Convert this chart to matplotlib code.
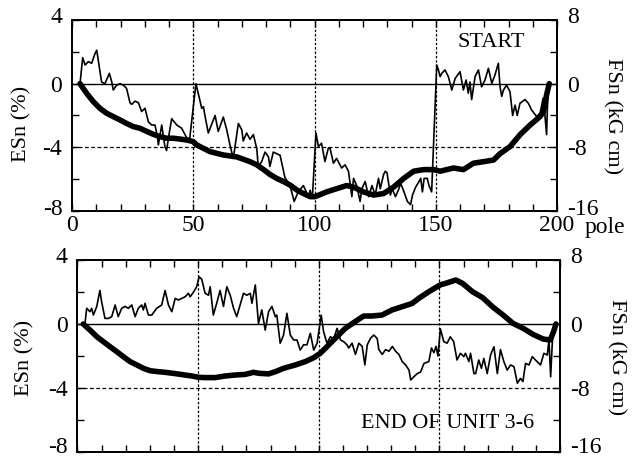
import numpy as np
import matplotlib
matplotlib.use("Agg")
import matplotlib.pyplot as plt
from matplotlib.ticker import MultipleLocator
from matplotlib.transforms import ScaledTranslation

plt.rcParams['font.family'] = ['Liberation Serif', 'DejaVu Serif']
plt.rcParams['axes.unicode_minus'] = False

# START : thin line = ESn (%), thick line = FSn (kG cm)
top_pole_e = [3.3, 4.4, 5.4, 6.7, 8.1, 9.5, 10.2, 12.2, 13.6, 15.4, 16.4, 17.0, 18.4, 19.8, 21.2, 22.5,
              23.9, 24.6, 26.0, 27.4, 28.7, 30.1, 31.5, 32.9, 34.2, 35.2, 35.6, 37.0, 38.3, 39.0, 40.0,
              41.1, 43.2, 45.2, 47.3, 48.5, 51.1, 53.5, 54.2, 54.8, 56.2, 59.0, 60.3, 62.4, 63.8, 65.2,
              66.5, 68.6, 70.0, 70.6, 72.0, 73.4, 74.8, 76.2, 76.8, 78.2, 79.6, 81.0, 81.6, 83.0, 85.8,
              87.8, 89.9, 91.6, 93.3, 95.4, 97.5, 98.2, 99.1, 100.6, 101.6, 102.9, 104.3, 105.7, 106.4,
              107.8, 109.1, 111.2, 112.6, 114.0, 115.4, 116.1, 117.4, 118.8, 119.5, 120.9, 122.3, 123.7,
              125.0, 126.4, 127.1, 128.5, 129.2, 129.9, 131.3, 132.0, 133.4, 134.8, 135.5, 136.9, 138.3,
              139.6, 140.4, 141.7, 143.1, 143.8, 144.5, 145.2, 146.5, 147.2, 148.3, 150.4, 151.1, 151.8,
              152.5, 153.8, 155.2, 156.6, 158.0, 160.0, 161.4, 162.5, 163.4, 164.1, 164.8, 166.2, 167.6,
              168.9, 170.3, 171.7, 173.1, 174.4, 175.8, 176.5, 177.2, 177.9, 179.2, 180.6, 181.7, 182.7,
              183.6, 184.7, 186.8, 188.2, 189.5, 191.6, 193.0, 194.3, 195.0, 195.7, 196.0, 196.4, 196.8]
top_esn = [0, 1.63, 1.17, 1.38, 1.28, 1.9, 2.1, 0.1, 0, 0.65, 0.1, -0.4, -0.1, 0, -0.1, -0.3,
           -1.2, -1.3, -1.1, -1.2, -1.75, -1.55, -2.4, -2.6, -2.6, -3.3, -3.85, -2.6, -3.95, -4.2, -3.2,
           -2.2, -2.6, -2.8, -3.4, -3.5, 0, -1.55, -1.45, -2.0, -3.1, -2.0, -3.0, -2.1, -2.9, -3.9,
           -4.7, -2.5, -2.9, -3.6, -3.1, -3.5, -3.2, -4.1, -5.2, -4.9, -4.3, -4.6, -5.2, -4.3, -4.5,
           -5.9, -6.4, -7.4, -6.8, -6.4, -7.1, -6.7, -7.2, -3.1, -3.95, -3.75, -4.9, -4.05, -4.05,
           -5.0, -4.7, -5.3, -5.1, -5.5, -7.1, -5.95, -6.4, -7.4, -6.6, -6.15, -7.1, -6.4,
           -7.0, -5.95, -6.6, -5.7, -5.5, -5.6, -7.0, -6.6, -7.1, -6.6, -6.25, -6.8, -7.4,
           -7.6, -7.0, -6.5, -6.15, -5.95, -6.8, -5.95, -5.95, -6.4, -6.8, 1.17, 0.86, 0.44,
           0.65, 0.86, 0.44, -0.4, 0.33, 0.75, -0.4, 0.23, -0.6, 0.1, -1.0, 0.44, 0.86,
           -0.2, 0.23, 0.96, 0.02, 0.54, 1.28, -0.2, -0.8, -0.4, -0.1, -0.5, -2.0, -1.35,
           -2.0, -1.24, -1.0, -1.24, -1.65, -2.07, -1.86, -0.9, -1.97, -3.2, -1.6, -0.5, 0]

top_pole_f = [3.3, 6.0, 8.8, 11.5, 14.3, 17.0, 19.8, 22.5, 25.3, 28.0, 30.8, 33.5, 36.3, 39.0, 41.8,
              44.5, 47.3, 50.0, 51.4, 56.9, 62.4, 67.9, 73.4, 76.2, 79.0, 81.6, 84.4, 87.2, 89.9, 92.7,
              95.4, 98.2, 100.2, 105.0, 109.1, 113.3, 116.1, 120.2, 124.4, 128.5, 132.6, 136.8, 140.9,
              145.0, 149.1, 151.8, 157.3, 161.4, 165.5, 169.7, 173.8, 176.5, 180.6, 184.8, 188.9, 193.0,
              194.4, 195.7, 196.8]
top_fsn = [0, -1.2, -2.26, -3.1, -3.72, -4.14, -4.56, -5.0, -5.4, -5.6, -6.0, -6.36, -6.66, -6.86, -6.86,
           -6.96, -7.08, -7.28, -7.7, -8.54, -8.96, -9.2, -9.8, -10.2, -10.8, -11.4, -11.9, -12.3, -12.74,
           -13.36, -13.8, -14.2, -14.2, -13.6, -13.2, -12.8, -13.0, -13.6, -14.0, -13.8, -13.0, -11.9,
           -11.0, -10.8, -10.8, -11.0, -10.6, -10.8, -10.0, -9.8, -9.6, -8.8, -7.92, -6.4, -5.2, -4.14,
           -3.52, -1.4, 0]

# END OF UNIT 3-6
bot_pole_e = [3.1, 3.8, 5.2, 5.9, 6.6, 8.0, 9.3, 10.0, 11.4, 12.8, 14.2, 15.6, 16.9, 18.3, 19.7, 21.1,
              22.5, 23.9, 25.2, 26.6, 27.3, 28.0, 29.4, 30.8, 32.8, 34.9, 36.3, 37.7, 39.1, 40.5, 41.8,
              43.2, 44.6, 46.0, 46.7, 48.1, 49.4, 50.4, 51.5, 52.9, 54.3, 55.0, 56.3, 57.7, 59.1, 60.5,
              61.9, 63.3, 64.7, 66.0, 67.4, 68.8, 70.2, 71.6, 72.3, 73.7, 75.0, 76.4, 77.8, 79.2, 80.6,
              82.0, 82.6, 84.0, 85.4, 86.8, 88.2, 89.6, 91.0, 92.3, 93.7, 95.1, 96.5, 97.9, 99.3, 101.0,
              102.0, 103.4, 104.8, 106.2, 107.6, 109.0, 110.3, 111.7, 112.4, 113.8, 115.2, 116.6, 118.0,
              119.1, 120.1, 121.4, 122.8, 124.2, 124.9, 126.3, 127.7, 129.1, 130.5, 131.8, 133.2, 134.6,
              136.0, 137.4, 138.1, 139.4, 140.8, 142.2, 143.6, 145.6, 146.7, 147.7, 148.6, 149.4, 150.4,
              151.8, 153.2, 154.5, 155.9, 157.3, 158.7, 160.1, 160.8, 162.2, 162.9, 164.3, 165.0, 166.3,
              167.4, 168.4, 169.8, 171.2, 172.6, 174.0, 175.3, 176.7, 178.1, 179.5, 180.9, 182.3, 183.6,
              184.6, 185.7, 187.1, 188.5, 189.8, 191.9, 193.3, 194.7, 195.4, 196.1, 196.8, 197.5]
bot_esn = [0, 0.98, 0.77, 0.98, 0.56, 1.1, 2.1, 1.4, 0.35, 0.35, 0.46, 1.19, 0.46, 0.98, 1.1, 0.98,
           1.19, 0.46, 0.98, 1.19, 0.88, 1.29, 0.56, 0.56, 0.98, 1.19, 2.1, 1.19, 0.77, 1.6, 1.5,
           1.6, 1.7, 1.92, 1.7, 2.0, 2.33, 2.95, 2.8, 1.92, 1.8, 2.33, 0.56, 1.3, 2.1, 1.1,
           2.33, 1.8, 0.98, 0.46, 1.19, 1.92, 1.8, 1.92, 1.3, 2.44, 0.04, 0.88, -0.38, 0.77, 1.1,
           0.46, 0.56, -1.2, -0.69, 0.67, -0.69, -1.0, -1.0, -1.63, -1.3, -1.3, -0.58, -1.63, -1.2, 0.56,
           -0.48, -1.2, -0.8, -0.9, -0.27, -1.0, -1.1, -1.3, -1.5, -1.2, -1.9, -1.2, -1.4,
           -2.56, -1.3, -0.9, -0.69, -0.9, -1.6, -1.9, -1.6, -1.7, -1.4, -1.7, -1.9, -2.35,
           -2.56, -2.88, -3.5, -3.3, -3.1, -3.0, -2.46, -2.35, -1.5, -1.8, -1.4, -2.0, -0.3,
           -1.1, -1.2, -0.8, -1.1, -2.25, -1.83, -2.04, -1.83, -2.35, -1.83, -3.1, -3.1, -2.25,
           -2.77, -2.15, -3.1, -1.94, -1.42, -3.1, -1.6, -2.35, -2.88, -2.56, -2.67, -3.7, -3.4,
           -3.6, -2.46, -2.56, -2.04, -2.25, -2.56, -1.83, -1.94, -1.0, -3.3, -1.1, 0]

bot_pole_f = [2.4, 5.2, 8.0, 10.7, 13.5, 16.3, 19.0, 21.8, 24.6, 27.3, 30.1, 33.5, 36.3, 40.5, 44.6,
              47.4, 50.1, 52.9, 57.1, 61.2, 65.3, 69.5, 73.0, 75.1, 79.2, 82.0, 85.4, 90.3, 94.4, 98.0,
              100.6, 102.7, 106.8, 111.0, 115.1, 118.6, 122.0, 126.2, 130.4, 134.5, 138.7, 141.4, 145.6,
              150.4, 152.5, 156.8, 159.6, 163.7, 167.9, 172.0, 176.4, 180.5, 184.7, 188.8, 193.0, 195.9,
              197.3, 198.3]
bot_fsn = [0, -0.76, -1.58, -2.2, -2.84, -3.46, -4.08, -4.7, -5.12, -5.54, -5.84, -5.96, -6.04, -6.2,
           -6.38, -6.5, -6.66, -6.7, -6.7, -6.5, -6.38, -6.3, -6.04, -6.16, -6.24, -5.96, -5.54, -5.12,
           -4.7, -4.2, -3.66, -3.04, -1.8, -0.54, 0.3, 1.0, 1.0, 1.12, 1.76, 2.16, 2.58, 3.2, 4.04,
           4.9, 5.08, 5.5, 5.08, 4.04, 3.3, 2.16, 1.12, 0.08, -0.54, -1.3, -1.88, -2.0, -0.96, 0]

x_ticks = [0, 50, 100, 150, 200]
x_ticklabels = ['0', '50', '100', '150', '200']
esn_ticks = [-8, -4, 0, 4]
fsn_ticks = [-16, -8, 0, 8]

fig = plt.figure(figsize=(6.35, 4.57), dpi=100)

def nudge(labels, dy_px):
    # move end tick labels up a little, as in the scanned original
    for lab in labels:
        lab.set_transform(lab.get_transform() + ScaledTranslation(0, dy_px / 100, fig.dpi_scale_trans))

def panel(rect, pe, esn, pf, fsn, label, lx, ly, show_x, low_shift):
    ax = fig.add_axes(rect)
    ax2 = ax.twinx()
    ax.set_xlim(0, 200)
    ax.set_ylim(-8, 4)
    ax2.set_ylim(-16, 8)
    ax.axhline(0, color='black', lw=1.0, zorder=1)
    ax.axhline(-4, color='black', lw=0.9, ls=(0, (3, 2)), zorder=1)
    for xv in [50, 100, 150]:
        ax.axvline(xv, color='black', lw=0.9, ls=(0, (2, 1.5)), zorder=1)
    ax.plot(pe, esn, color='black', lw=1.2, zorder=3)
    ax2.plot(pf, fsn, color='black', lw=4.0, solid_capstyle='round', zorder=3)
    ax.set_xticks(x_ticks)
    ax.xaxis.set_minor_locator(MultipleLocator(10))
    ax.set_yticks(esn_ticks)
    ax.yaxis.set_minor_locator(MultipleLocator(2))
    ax2.set_yticks(fsn_ticks)
    ax2.yaxis.set_minor_locator(MultipleLocator(4))
    ax.tick_params(axis='x', which='both', direction='in', top=True, length=5, width=1, labelsize=17, pad=3)
    ax.tick_params(axis='y', which='both', direction='in', length=5, width=1, labelsize=17, pad=7)
    ax2.tick_params(axis='y', which='both', direction='in', length=5, width=1, labelsize=17, pad=7)
    if show_x:
        ax.set_xticklabels(x_ticklabels)
    else:
        ax.set_xticklabels([])
    for a in (ax, ax2):
        for s in a.spines.values():
            s.set_linewidth(1.3)
    yt = ax.yaxis.get_major_ticks()
    yt2 = ax2.yaxis.get_major_ticks()
    nudge([yt[-1].label1, yt2[-1].label2], 5)
    nudge([yt[0].label1, yt2[0].label2], low_shift)
    ax.text(lx, ly, label, fontsize=16, ha='center', va='center')
    return ax

ax_top = panel([0.1134, 0.5383, 0.7638, 0.418], top_pole_e, top_esn, top_pole_f, top_fsn,
               'START', 173, 2.6, True, 4)
ax_bot = panel([0.122, 0.011, 0.760, 0.420], bot_pole_e, bot_esn, bot_pole_f, bot_fsn,
               'END OF UNIT 3-6', 153.5, -6.25, False, 7)

ax_top.annotate('pole', xy=(200, -8), xycoords='data', xytext=(20, -4),
                textcoords='offset points', fontsize=17, ha='left', va='top')

fig.text(22 / 635, 1 - 124 / 457, 'ESn (%)', rotation=90, fontsize=16, ha='center', va='center')
fig.text(612 / 635, 1 - 116 / 457, 'FSn (kG cm)', rotation=270, fontsize=16, ha='center', va='center')
fig.text(25 / 635, 1 - 358 / 457, 'ESn (%)', rotation=90, fontsize=16, ha='center', va='center')
fig.text(616 / 635, 1 - 357 / 457, 'FSn (kG cm)', rotation=270, fontsize=16, ha='center', va='center')

fig.savefig('out.png', dpi=100)
